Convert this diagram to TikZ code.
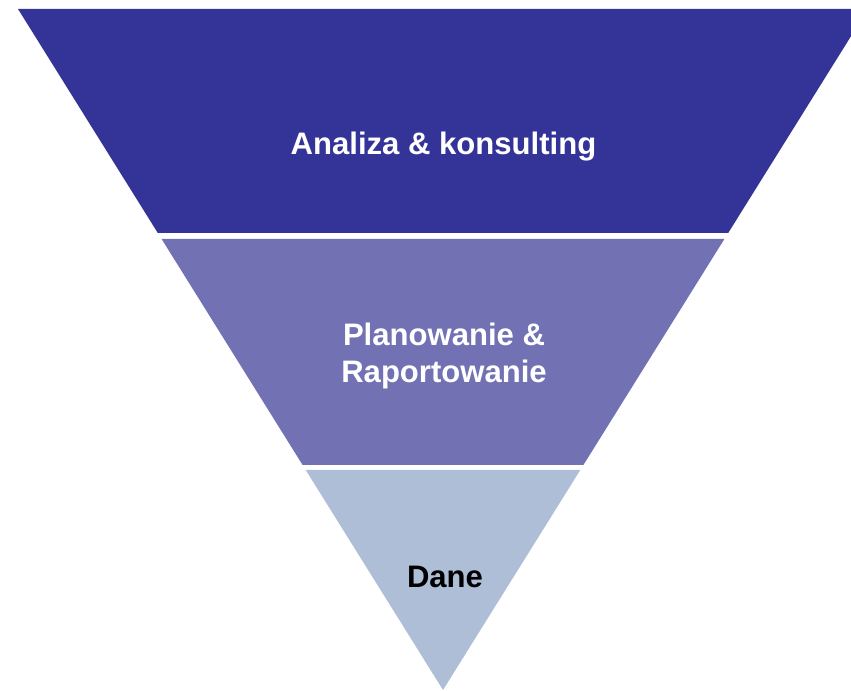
\documentclass[tikz,border=0pt]{standalone}
\usepackage{fontspec}
\setmainfont{Liberation Sans}
\usetikzlibrary{positioning}
\definecolor{bandtop}{RGB}{52,52,152}
\definecolor{bandmid}{RGB}{113,113,180}
\definecolor{bandlow}{RGB}{175,190,215}
\tikzstyle{band} = [draw=none]
\tikzstyle{label} = [inner sep=0pt, align=center, font=\bfseries\fontsize{23.3}{27.2}\selectfont]
\begin{document}
\begin{tikzpicture}[x=0.75pt, y=-0.75pt]
        \useasboundingbox (0,0) rectangle (851,691);
        \begin{scope}
        \clip (0,0) rectangle (851,691);
        % three bands of the funnel
        \fill [band, bandtop] (18,9) -- (868,9) -- (728.2,233) -- (157.8,233) -- cycle;
        \fill [band, bandmid] (161.6,239) -- (724.4,239) -- (583.4,465) -- (302.6,465) -- cycle;
        \fill [band, bandlow] (305.7,470) -- (580.3,470) -- (443,690) -- cycle;
        \end{scope}

        \node (analysis) [label, white, anchor=base] at (443.5,155) {Analiza \& konsulting};
        \node (planning) [label, white] at (444,356) {Planowanie \&\\ Raportowanie};
        \node (data) [label, black, anchor=base] at (445,588) {Dane};
    \end{tikzpicture}
\end{document}
